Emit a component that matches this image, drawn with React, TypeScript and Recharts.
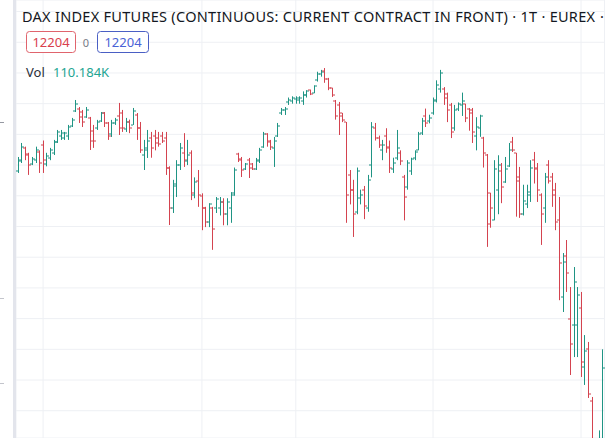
import React from "react";
import { ComposedChart, Bar, XAxis, YAxis, CartesianGrid } from "recharts";

const dates = [
  "2021-07-22","2021-07-23","2021-07-26","2021-07-27","2021-07-28","2021-07-29","2021-07-30",
  "2021-08-02","2021-08-03","2021-08-04","2021-08-05","2021-08-06",
  "2021-08-09","2021-08-10","2021-08-11","2021-08-12","2021-08-13",
  "2021-08-16","2021-08-17","2021-08-18","2021-08-19","2021-08-20",
  "2021-08-23","2021-08-24","2021-08-25","2021-08-26","2021-08-27",
  "2021-08-30","2021-08-31",
  "2021-09-01","2021-09-02","2021-09-03",
  "2021-09-06","2021-09-07","2021-09-08","2021-09-09","2021-09-10",
  "2021-09-13","2021-09-14","2021-09-15","2021-09-16","2021-09-17",
  "2021-09-20","2021-09-21","2021-09-22","2021-09-23","2021-09-24",
  "2021-09-27","2021-09-28","2021-09-29","2021-09-30",
  "2021-10-01",
  "2021-10-04","2021-10-05","2021-10-06","2021-10-07","2021-10-08",
  "2021-10-11","2021-10-12","2021-10-13","2021-10-14","2021-10-15",
  "2021-10-18","2021-10-19","2021-10-20","2021-10-21","2021-10-22",
  "2021-10-25","2021-10-26","2021-10-27","2021-10-28","2021-10-29",
  "2021-11-01","2021-11-02","2021-11-03","2021-11-04","2021-11-05",
  "2021-11-08","2021-11-09","2021-11-10","2021-11-11","2021-11-12",
  "2021-11-15","2021-11-16","2021-11-17","2021-11-18","2021-11-19",
  "2021-11-22","2021-11-23","2021-11-24","2021-11-25","2021-11-26",
  "2021-11-29","2021-11-30",
  "2021-12-01","2021-12-02","2021-12-03",
  "2021-12-06","2021-12-07","2021-12-08","2021-12-09","2021-12-10",
  "2021-12-13","2021-12-14","2021-12-15","2021-12-16","2021-12-17",
  "2021-12-20","2021-12-21","2021-12-22","2021-12-23",
  "2021-12-27","2021-12-28","2021-12-29","2021-12-30",
  "2022-01-03","2022-01-04","2022-01-05","2022-01-06","2022-01-07",
  "2022-01-10","2022-01-11","2022-01-12","2022-01-13","2022-01-14",
  "2022-01-17","2022-01-18","2022-01-19","2022-01-20","2022-01-21",
  "2022-01-24","2022-01-25","2022-01-26","2022-01-27","2022-01-28",
  "2022-01-31",
  "2022-02-01","2022-02-02","2022-02-03","2022-02-04",
  "2022-02-07","2022-02-08","2022-02-09","2022-02-10","2022-02-11",
  "2022-02-14","2022-02-15","2022-02-16","2022-02-17","2022-02-18",
  "2022-02-21","2022-02-22","2022-02-23","2022-02-24","2022-02-25",
  "2022-02-28",
  "2022-03-01","2022-03-02","2022-03-03","2022-03-04",
  "2022-03-07","2022-03-08","2022-03-09",
];

const opens = [
  15450,15530,15640,15590,15510,15540,15610,15660,15510,15560,
  15600,15690,15740,15720,15740,15820,15940,15960,15930,15890,
  15880,15780,15800,15860,15920,15840,15750,15840,15900,15920,
  15790,15850,15830,15910,15800,15580,15620,15720,15740,15720,
  15740,15720,15480,15150,15350,15500,15600,15530,15600,15260,
  15370,15250,15150,15040,15150,15150,15150,15200,15100,15150,
  15270,15590,15550,15470,15540,15510,15470,15530,15650,15750,
  15700,15640,15740,15920,15950,16010,16020,16040,16030,16020,
  16070,16110,16090,16190,16240,16270,16200,16130,16020,15990,
  15920,15850,15420,15300,15120,15230,15300,15150,15500,15800,
  15720,15620,15740,15650,15470,15560,15600,15400,15320,15450,
  15560,15620,15760,15900,15860,15920,16030,16120,16120,16080,
  15990,15800,15960,15990,16000,15960,15950,15740,15800,15720,
  15580,15270,15050,15300,15450,15360,15490,15690,15600,15400,
  15100,15180,15280,15540,15480,15260,15150,15500,15400,15300,
  15050,14430,14760,14247,14198,14200,14336,13860,14000,13580,
  12950,12750,13000,
];

const highs = [
  15566,15680,15650,15600,15566,15650,15620,15700,15600,15640,
  15705,15786,15786,15770,15827,15884,16030,15973,15949,15973,
  15892,15827,15868,15932,15932,15851,15868,15884,16006,15949,
  15884,15870,15965,15924,15851,15705,15786,15770,15786,15770,
  15770,15770,15490,15380,15540,15680,15760,15705,15620,15400,
  15460,15270,15160,15190,15160,15240,15240,15230,15230,15280,
  15480,15600,15566,15517,15558,15517,15558,15640,15770,15760,
  15705,15729,15843,15965,15973,16050,16060,16060,16060,16100,
  16110,16115,16150,16260,16275,16290,16210,16130,16030,16014,
  15925,15851,15460,15380,15480,15300,15330,15420,15850,15843,
  15740,15705,15800,15700,15560,15786,15620,15420,15540,15560,
  15620,15770,15884,15960,15910,16050,16190,16275,16135,16090,
  16006,15990,16010,16090,16000,15965,15965,15890,15910,15730,
  15590,15275,15540,15580,15517,15566,15680,15729,15600,15485,
  15340,15340,15540,15607,15517,15270,15436,15540,15436,15355,
  15240,14784,14890,14507,14670,14507,14467,14116,14060,13612,
  13070,13340,14000,
];

const lows = [
  15436,15517,15540,15420,15500,15517,15436,15436,15490,15540,
  15582,15680,15705,15705,15705,15810,15932,15843,15810,15884,
  15623,15640,15786,15851,15810,15705,15729,15827,15745,15770,
  15770,15760,15827,15705,15599,15460,15558,15560,15620,15650,
  15680,15420,15012,15110,15240,15460,15485,15500,15215,15230,
  15160,14970,14995,14995,14810,15110,15090,15010,15010,15030,
  15250,15525,15403,15460,15395,15460,15460,15517,15640,15650,
  15623,15485,15729,15908,15908,15990,16000,16000,16000,15990,
  16050,16070,16085,16180,16220,16170,16110,16055,15870,15745,
  15850,15030,15180,14915,15100,15180,15060,15120,15400,15700,
  15640,15540,15600,15436,15436,15540,15500,15050,15300,15420,
  15540,15620,15745,15810,15840,15910,16010,16090,15990,15850,
  15720,15780,15940,15900,15850,15780,15680,15620,15730,15480,
  14834,14990,15050,15100,15190,15355,15485,15607,15080,15070,
  15090,15150,15200,15350,15200,14850,15030,15350,15160,14970,
  14400,14304,14467,13791,13937,13937,13775,13710,13604,12950,
  12440,12620,12980,
];

const closes = [
  15540,15650,15580,15500,15550,15620,15520,15540,15570,15620,
  15690,15770,15760,15760,15810,15870,16000,15890,15850,15950,
  15700,15700,15850,15920,15840,15740,15840,15870,15800,15800,
  15850,15800,15940,15800,15620,15640,15700,15640,15680,15670,
  15700,15480,15150,15330,15500,15640,15540,15580,15270,15360,
  15260,15150,15040,15180,14980,15220,15200,15100,15200,15260,
  15460,15540,15460,15510,15480,15470,15540,15620,15750,15690,
  15650,15700,15820,15950,15960,16030,16050,16050,16045,16070,
  16100,16080,16140,16240,16255,16200,16130,16070,15900,15900,
  15870,15260,15300,15100,15450,15260,15170,15380,15810,15720,
  15660,15660,15640,15480,15520,15640,15530,15240,15520,15550,
  15610,15750,15860,15840,15880,16020,16150,16250,16050,15950,
  15770,15950,15995,16020,15880,15920,15770,15810,15900,15600,
  15020,15150,15470,15500,15320,15470,15620,15620,15370,15100,
  15210,15260,15480,15470,15300,15100,15400,15370,15260,15040,
  14700,14710,14620,14043,14548,14440,13900,13990,13640,13090,
  12835,12840,13850,
];

const priceTicks = [13500,13750,14000,14250,14500,14750,15000,15250,15500,15750,16000,16250,16500,16750];
const timeTicks = ["2021-08-02","2021-10-01","2021-11-08","2022-01-03","2022-03-01"];

const UP = "#1f9484";
const DOWN = "#d4434f";

const data = dates.map((d, i) => ({
  date: d,
  open: opens[i],
  high: highs[i],
  low: lows[i],
  close: closes[i],
}));

const OhlcShape = (props: any) => {
  const p = props.payload || props;
  const { x, y, width, height } = props;
  if (x == null || y == null || !isFinite(height)) return null;
  const top = Math.min(y, y + height);
  const h = Math.abs(height);
  const range = p.high - p.low;
  const k = range > 0 ? h / range : 0;
  const yO = top + (p.high - p.open) * k;
  const yC = top + (p.high - p.close) * k;
  const cx = Math.floor(x + width / 2);
  const color = p.close >= p.open ? UP : DOWN;
  return (
    <g>
      <rect x={cx} y={top} width={1} height={Math.max(h, 1)} fill={color} />
      <rect x={cx - 2} y={Math.round(yO) - 0.5} width={2} height={1} fill={color} />
      <rect x={cx + 1} y={Math.round(yC) - 0.5} width={2} height={1} fill={color} />
    </g>
  );
};

const font = "'Noto Sans', 'Open Sans', sans-serif";

export default function App() {
  return (
    <div
      style={{
        position: "fixed",
        left: 0,
        top: 0,
        width: 606,
        height: 438,
        overflow: "hidden",
        background: "#ffffff",
      }}
    >
      <ComposedChart
        width={606}
        height={438}
        data={data}
        margin={{ top: 0, right: 1.5, left: 16, bottom: 0 }}
        barCategoryGap="0%"
      >
        <CartesianGrid stroke="#eef0f4" strokeWidth={1} ticks={undefined as any} />
        <XAxis dataKey="date" hide ticks={timeTicks} interval={0} padding={{ left: 0, right: 0 }} />
        <YAxis
          hide
          type="number"
          domain={[13278, 16844]}
          ticks={priceTicks}
          allowDataOverflow
        />
        <Bar
          dataKey={(d: any) => [d.low, d.high]}
          shape={OhlcShape}
          isAnimationActive={false}
        />
      </ComposedChart>

      <div style={{ position: "absolute", left: 13, top: 0, width: 3, height: 438, background: "#e3e5ec" }} />
      <div style={{ position: "absolute", left: 0, top: 122, width: 4, height: 1, background: "#9598a1" }} />
      <div style={{ position: "absolute", left: 0, top: 298, width: 4, height: 1, background: "#c3c5cc" }} />
      <div style={{ position: "absolute", left: 0, top: 383, width: 4, height: 1, background: "#c3c5cc" }} />

      <svg width={606} height={438} style={{ position: "absolute", left: 0, top: 0, pointerEvents: "none" }}>
        <text
          x={22}
          y={21.5}
          fontFamily={font}
          fontSize={14.5}
          fill="#131722"
          textLength={573}
          lengthAdjust="spacing"
        >
          DAX INDEX FUTURES (CONTINUOUS: CURRENT CONTRACT IN FRONT) · 1T · EUREX
        </text>
        <text x={600} y={21.5} fontFamily={font} fontSize={14.5} fill="#131722">·</text>

        <rect x={26.5} y={31.5} width={49} height={21} rx={3} ry={3} fill="#ffffff" stroke="#e0646d" strokeWidth={1} />
        <text x={51} y={46.5} textAnchor="middle" fontFamily={font} fontSize={13} fill="#d9404c">12204</text>
        <text x={86} y={46.5} textAnchor="middle" fontFamily={font} fontSize={11} fill="#787b86">0</text>
        <rect x={97.5} y={31.5} width={51} height={21} rx={3} ry={3} fill="#ffffff" stroke="#4a5fc4" strokeWidth={1} />
        <text x={123} y={46.5} textAnchor="middle" fontFamily={font} fontSize={13} fill="#4a62d6">12204</text>

        <text x={26} y={77} fontFamily={font} fontSize={13} fill="#2a2e39">Vol</text>
        <text x={53} y={77} fontFamily={font} fontSize={13} fill="#22a592">110.184K</text>
      </svg>
    </div>
  );
}
